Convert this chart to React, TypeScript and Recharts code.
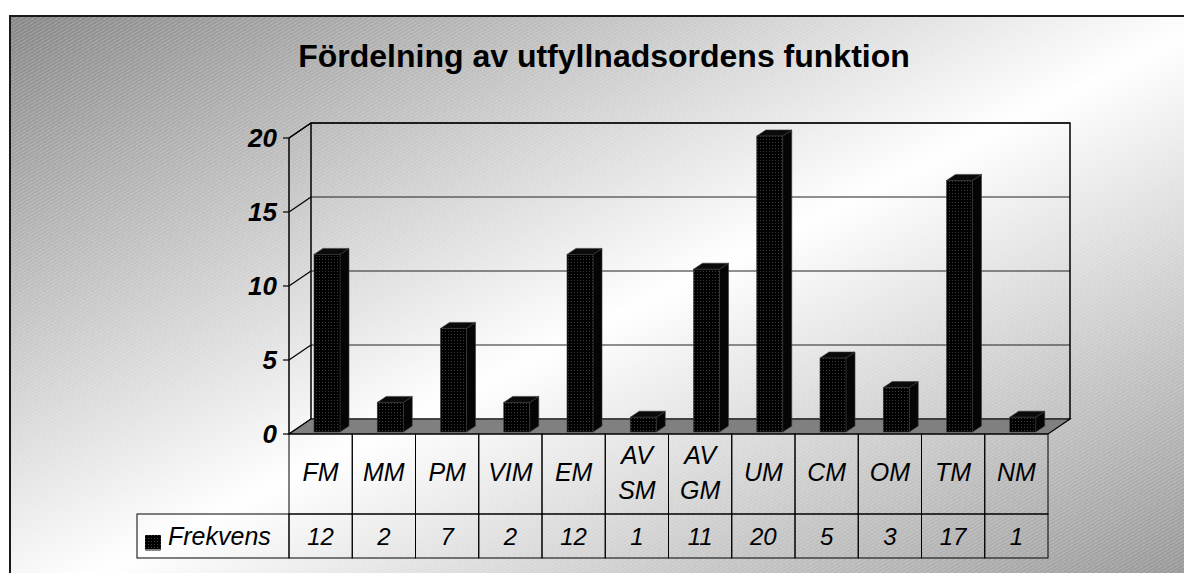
import { BarChart, Bar, XAxis, YAxis, CartesianGrid, ReferenceArea } from 'recharts';

const categories = ['FM', 'MM', 'PM', 'VIM', 'EM', 'AV SM', 'AV GM', 'UM', 'CM', 'OM', 'TM', 'NM'];
const frekvens = [12, 2, 7, 2, 12, 1, 11, 20, 5, 3, 17, 1];
const yTicks = [0, 5, 10, 15, 20];
const seriesName = 'Frekvens';
const title = 'Fördelning av utfyllnadsordens funktion';

const data = categories.map((name, i) => ({ name, frekvens: frekvens[i] }));

const FONT = '"Liberation Sans", Arial, sans-serif';
// oblique depth of the 3D box
const DEPTH_X = 22;
const DEPTH_Y = -15;
// bar placement inside the box
const BAR_SHIFT_X = 6;
const BAR_SHIFT_Y = -2;
const BAR_DX = 9;
const BAR_DY = -6;
const ROW1_H = 80;
const ROW2_H = 44;
const LEGEND_W = 152;

function Bar3D(props: any) {
    const { x, y, width, height } = props;
    if (height == null || height <= 0) return null;
    const fx = x + BAR_SHIFT_X;
    const fy = y + BAR_SHIFT_Y;
    const right = fx + width;
    const bottom = fy + height;
    return (
        <g stroke="#3a3a3a" strokeWidth={0.6}>
            <polygon
                points={`${right},${fy} ${right + BAR_DX},${fy + BAR_DY} ${right + BAR_DX},${bottom + BAR_DY} ${right},${bottom}`}
                fill="#050505"
            />
            <polygon
                points={`${fx},${fy} ${fx + BAR_DX},${fy + BAR_DY} ${right + BAR_DX},${fy + BAR_DY} ${right},${fy}`}
                fill="#0a0a0a"
            />
            <rect x={fx} y={fy} width={width} height={height} fill="url(#barDots)" />
        </g>
    );
}

function Box3D(props: any) {
    const { x, y, width, height } = props;
    const bx = x + DEPTH_X;
    const by = y + DEPTH_Y;
    const bottom = y + height;
    const right = x + width;
    return (
        <g>
            <defs>
                <pattern id="barDots" width="3" height="3" patternUnits="userSpaceOnUse">
                    <rect width="3" height="3" fill="#000" />
                    <rect x="1" y="1" width="1" height="1" fill="#3c3c3c" />
                </pattern>
            </defs>
            {/* back wall outline */}
            <polyline
                points={`${bx},${bottom + DEPTH_Y} ${bx},${by} ${right + DEPTH_X},${by} ${right + DEPTH_X},${bottom + DEPTH_Y}`}
                fill="none"
                stroke="#000"
                strokeWidth={1.5}
            />
            <line x1={x} y1={y} x2={bx} y2={by} stroke="#000" strokeWidth={1.2} />
            {/* floor */}
            <polygon
                points={`${x},${bottom} ${bx},${bottom + DEPTH_Y} ${right + DEPTH_X},${bottom + DEPTH_Y} ${right},${bottom}`}
                fill="#808080"
                stroke="#000"
                strokeWidth={1.2}
            />
        </g>
    );
}

function WallGridLine(props: any) {
    const { x1, y1, x2, key } = props;
    return (
        <g key={key}>
            <line x1={x1} y1={y1} x2={x1 + DEPTH_X} y2={y1 + DEPTH_Y} stroke="#000" strokeWidth={1.2} />
            <line x1={x1 + DEPTH_X} y1={y1 + DEPTH_Y} x2={x2 + DEPTH_X} y2={y1 + DEPTH_Y} stroke="#222" strokeWidth={1.2} />
        </g>
    );
}

function TableCell(props: any) {
    const { x, y, payload, index } = props;
    const half = payload && payload.offset ? payload.offset : 759 / categories.length / 2;
    const i = payload && payload.index != null ? payload.index : index;
    const label: string = String(payload.value);
    const lines = label.split(' ');
    const left = x - half;
    const textStyle = { fontFamily: FONT, fontSize: 25, fontStyle: 'italic' as const, fill: '#000' };
    return (
        <g>
            <rect x={left} y={y} width={half * 2} height={ROW1_H} fill="none" stroke="#000" strokeWidth={1} />
            <rect x={left} y={y + ROW1_H} width={half * 2} height={ROW2_H} fill="none" stroke="#000" strokeWidth={1} />
            {lines.length === 1 ? (
                <text x={x} y={y + 47} textAnchor="middle" {...textStyle}>{label}</text>
            ) : (
                lines.map((ln, k) => (
                    <text key={k} x={x} y={y + 30 + k * 35} textAnchor="middle" {...textStyle}>{ln}</text>
                ))
            )}
            <text x={x} y={y + ROW1_H + 31} textAnchor="middle" {...textStyle} fontSize={24}>{frekvens[i]}</text>
            {i === 0 && (
                <g>
                    <rect x={left - LEGEND_W} y={y + ROW1_H} width={LEGEND_W} height={ROW2_H} fill="none" stroke="#000" strokeWidth={1} />
                    <rect x={left - LEGEND_W + 8} y={y + ROW1_H + 21} width={16} height={16} fill="url(#barDots)" />
                    <line x1={left - LEGEND_W + 8} y1={y + ROW1_H + 36} x2={left - LEGEND_W + 24} y2={y + ROW1_H + 36} stroke="#fff" strokeWidth={1} />
                    <text x={left - LEGEND_W + 31} y={y + ROW1_H + 31} {...textStyle}>{seriesName}</text>
                </g>
            )}
        </g>
    );
}

export default function App() {
    return (
        <div style={{ position: 'absolute', left: 0, top: 0, width: 1184, height: 573, overflow: 'hidden' }}>
            <div
                style={{
                    position: 'absolute',
                    left: 9,
                    top: 15,
                    width: 1210,
                    height: 600,
                    borderLeft: '2px solid #1a1a1a',
                    borderTop: '2px solid #1a1a1a',
                    background:
                        'repeating-linear-gradient(150deg, rgba(255,255,255,0.16) 0px, rgba(255,255,255,0.16) 1px, rgba(255,255,255,0) 1px, rgba(255,255,255,0) 3px), linear-gradient(to bottom right, #888 0%, #fff 50%, #8c8c8c 100%)',
                }}
            />
            <div
                style={{
                    position: 'absolute',
                    left: 0,
                    top: 40,
                    width: 1208,
                    textAlign: 'center',
                    fontFamily: FONT,
                    fontWeight: 'bold',
                    fontSize: 32,
                    lineHeight: '32px',
                    color: '#000',
                }}
            >
                {title}
            </div>
            <div style={{ position: 'absolute', left: 0, top: 0 }}>
                <BarChart
                    width={1184}
                    height={573}
                    data={data}
                    margin={{ top: 138, right: 136, bottom: 15, left: 229 }}
                    barSize={26}
                >
                    <CartesianGrid vertical={false} horizontal={(p: any) => <WallGridLine {...p} />} />
                    <ReferenceArea y1={0} y2={20} shape={(p: any) => <Box3D {...p} />} fillOpacity={1} />
                    <XAxis
                        dataKey="name"
                        height={124}
                        interval={0}
                        axisLine={false}
                        tickLine={false}
                        tickSize={0}
                        tickMargin={0}
                        tick={(p: any) => <TableCell {...p} />}
                    />
                    <YAxis
                        width={60}
                        domain={[0, 20]}
                        ticks={yTicks}
                        interval={0}
                        axisLine={{ stroke: '#000', strokeWidth: 1.5 }}
                        tickLine={{ stroke: '#000', strokeWidth: 1.2 }}
                        tickSize={6}
                        tickMargin={6}
                        tick={{ fontFamily: FONT, fontSize: 26, fontWeight: 'bold', fontStyle: 'italic', fill: '#000' }}
                    />
                    <Bar dataKey="frekvens" shape={(p: any) => <Bar3D {...p} />} isAnimationActive={false} />
                </BarChart>
            </div>
        </div>
    );
}
